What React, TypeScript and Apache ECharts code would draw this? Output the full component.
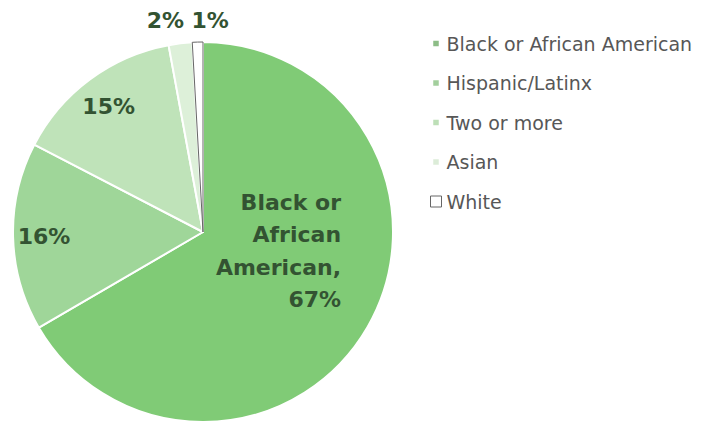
import React, { useEffect, useRef } from "react";
import * as echarts from "echarts";

const categories = ["Black or African American", "Hispanic/Latinx", "Two or more", "Asian", "White"];
const values = [66.6, 16.0, 14.5, 2.0, 0.9];
const labelTexts = [
  "{r|Black or}\n{r|African}\n{r|American,}\n{r|67%}",
  "16%",
  "15%",
  "2%",
  "1%",
];
const colors = ["#80cb76", "#9fd699", "#bfe3b9", "#ddf0d9", "#ffffff"];
const legendMarkerColors = ["#8dbd87", "#a3cf9d", "#bddfb7", "#dcecd8", "#ffffff"];
const labelOffsets = [
  [-9.5, -30],
  [-61, 2],
  [-36, -47],
  [-26, -114],
  [10, -114],
];
const smallSquareIcon = "path://M0,0M12,12M3,3L9,3L9,9L3,9Z";

export default function App() {
  const ref = useRef<HTMLDivElement>(null);
  useEffect(() => {
    document.body.style.margin = "0";
    const chart = echarts.init(ref.current!, null, { renderer: "svg" });
    const labelFont = { fontFamily: "DejaVu Sans", fontWeight: "bold", fontSize: 22, color: "#335332" };
    chart.setOption({
      animation: false,
      backgroundColor: "#ffffff",
      legend: {
        orient: "vertical",
        left: 425,
        top: 29,
        itemGap: 20.5,
        itemWidth: 11,
        itemHeight: 11,
        textStyle: { fontFamily: "DejaVu Sans", fontSize: 19, color: "#575757", padding: [0, 0, 0, 0] },
        data: categories.map((c, i) => ({
          name: c,
          icon: i === 4 ? "rect" : smallSquareIcon,
          itemStyle:
            i === 4
              ? { color: "#ffffff", borderColor: "#666666", borderWidth: 1 }
              : { color: legendMarkerColors[i], borderWidth: 0 },
        })),
      },
      series: [
        {
          type: "pie",
          center: [203, 232],
          radius: 190,
          startAngle: 90,
          clockwise: true,
          avoidLabelOverlap: false,
          label: {
            show: true,
            position: "inside",
            ...labelFont,
            lineHeight: 32.5,
            rich: { r: { ...labelFont, lineHeight: 32.5, align: "right" } },
          },
          labelLine: { show: false },
          labelLayout: (p: any) => ({ dx: labelOffsets[p.dataIndex][0], dy: labelOffsets[p.dataIndex][1] }),
          emphasis: { disabled: true },
          data: categories.map((c, i) => ({
            name: c,
            value: values[i],
            itemStyle:
              i === 4
                ? { color: colors[i], borderColor: "#666666", borderWidth: 1 }
                : { color: colors[i], borderColor: "#ffffff", borderWidth: 2 },
            label: { formatter: labelTexts[i] },
          })),
        },
      ],
    });
    return () => chart.dispose();
  }, []);
  return <div ref={ref} style={{ width: 719, height: 421 }} />;
}
